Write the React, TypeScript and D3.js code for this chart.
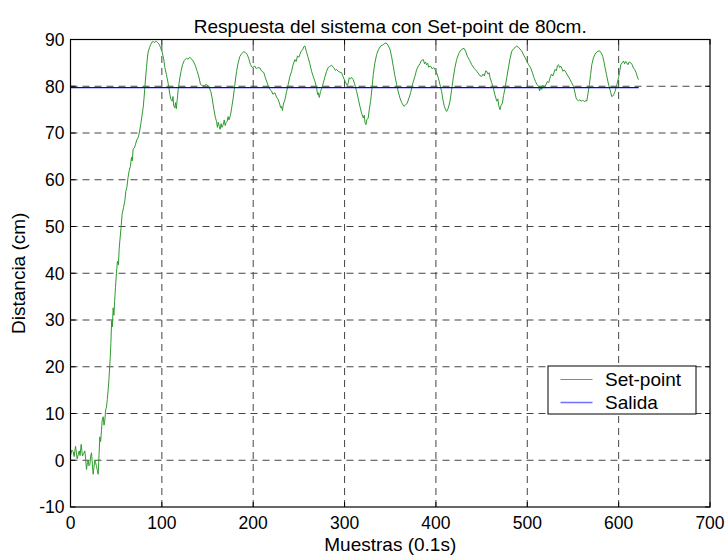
import { useRef, useEffect } from 'react';
import * as d3 from 'd3';

// [muestra, distancia]
const setPoint: [number, number][] = [
  [0, 1], [1.5, 2.2], [3, 1.8], [4, 0.8], [5.5, 3], [7.3, 0.3], [8.5, 1.2], [9.5, 2], [10.5, 1.0], [11.7, 3.4],
  [13.1, 0.9], [14.5, 1.5], [15.7, 2], [16.5, 0.5], [17.5, -2], [18.5, -0.5], [19.3, 0], [20.2, -1.2], [21.2, -1], [22, 0.8],
  [23, 1.6], [24, -1], [24.8, -3], [25.7, -1.5], [26.6, 0], [27.5, -0.5], [28.5, -1.4], [29.5, -2.2], [30.3, -3], [31.2, 1],
  [32.1, 5], [33, 4], [33.9, 6.4], [34.8, 8.8], [35.8, 9.3], [36.7, 7.5], [37.6, 8.6], [38.5, 10.8], [39.4, 11.4], [40.3, 13],
  [41.2, 15], [42, 17], [43.5, 22], [44.2, 25], [45, 29.8], [45.8, 28.5], [46.7, 32.6], [47.5, 31], [48.3, 34], [49.2, 36.9],
  [50.3, 40], [51.4, 42.6], [52.5, 41.8], [53.2, 45], [54, 46.9], [55.2, 49.5], [56.5, 52.6], [58, 54], [59.5, 55.5], [60.5, 57.5],
  [61.7, 58.4], [63, 60.5], [64.2, 61.9], [65.5, 62.8], [66.8, 64.8], [67.6, 64], [68.6, 66.6], [70, 66.8], [71.2, 67.6], [72.5, 68.5],
  [74, 69], [75.5, 70.2], [77, 72], [78.3, 73.8], [79.6, 75.5], [80.5, 77.5], [81.4, 79.8], [82.3, 82], [83.2, 84], [84, 85.8],
  [85, 87.3], [86.5, 88.3], [88, 89], [89.5, 89.5], [90.5, 89.6], [92, 89.3], [93, 89.6], [94.2, 89.6], [95.5, 89.3], [97, 89],
  [98.5, 88.3], [100.4, 87.3], [102, 85.8], [103.3, 84], [105, 82.5], [107, 80.5], [108.8, 78.2], [110, 77.2], [111.3, 76.8], [112.2, 77.8],
  [113, 75.8], [114.2, 75.4], [115, 76.5], [115.8, 75.2], [116.8, 77.1], [118, 79.5], [119.7, 81.8], [121, 83.2], [122.6, 84.6], [124.5, 85.5],
  [127, 86], [128.5, 85.8], [130.7, 86.2], [132.5, 85.8], [134.3, 85.4], [136.5, 84.5], [138.7, 83.2], [140.5, 82], [142.3, 80.4], [144.5, 80.1],
  [147, 80.2], [149, 80.4], [150.7, 80], [152, 79.6], [153.6, 78.9], [155, 77.5], [157, 75], [158.5, 73.4], [159.8, 72.5], [160.8, 71.2],
  [161.8, 72.3], [162.8, 71.4], [163.8, 70.8], [164.8, 72], [165.8, 71.2], [167.2, 71.8], [168.3, 72.8], [169.3, 71.6], [170.5, 72.3], [171.5, 72.5],
  [172.5, 73.5], [173.5, 72.8], [175.2, 73.9], [176.5, 75.5], [178.1, 77.5], [180, 80.5], [181.8, 83.2], [183.5, 85], [185.4, 86.4], [187.5, 87],
  [189.8, 87.4], [191.5, 87.2], [193.4, 86.8], [195, 86], [197.1, 84.6], [199, 84], [201.8, 84.3], [203.5, 83.7], [205, 84], [207.3, 83.9],
  [209, 83.3], [211.7, 82.9], [213, 82], [214.6, 81.1], [216.5, 80], [218.3, 79.3], [220, 79], [221.5, 78.3], [223.7, 78.6], [225.5, 77.7],
  [227.4, 77.1], [229, 76.2], [230, 75.4], [231, 75.7], [232, 74.8], [233, 76.2], [234.7, 77.1], [236.5, 78.8], [238.3, 80.4], [240, 82],
  [242, 83.2], [243.5, 84.5], [245.6, 85.7], [247, 85.3], [248.5, 86.5], [250, 86.2], [251.1, 86.8], [252.5, 87.5], [254, 87.8], [255.5, 88.5],
  [256.6, 88.6], [258.5, 87.2], [260.2, 86.1], [262, 84.8], [263.9, 83.2], [265.5, 82.2], [267.5, 81.1], [269.5, 79.5], [270.5, 78.2], [271.2, 78.6],
  [272.3, 77.6], [273.7, 78.9], [275, 79.5], [276.7, 80.7], [278.5, 82], [280.3, 83.2], [282, 84], [283.5, 84.2], [285.8, 84.5], [288, 84],
  [290, 83.4], [291.3, 83.6], [293, 83.2], [295, 83], [296.7, 82.9], [298.5, 82], [300.4, 81.1], [302, 80.5], [303, 80.2], [304, 80.7],
  [305, 81.8], [306.5, 81.6], [307.5, 81.9], [309.5, 81.4], [311, 80.5], [313.2, 78.9], [315, 77.3], [316.8, 75.7], [318.5, 74.3], [320.5, 73.2],
  [321.5, 73.8], [322.3, 72.3], [323.4, 71.8], [324.3, 72.8], [325.9, 73.2], [327, 75], [328.5, 76.8], [330, 79.5], [331.4, 82.5], [333, 84.8],
  [335.1, 86.8], [337, 87.8], [339.4, 88.6], [341.5, 88.8], [343, 89], [345.3, 89.3], [347.5, 88.8], [349.7, 87.9], [351.5, 86.3], [353.3, 84.3],
  [355, 82.3], [357, 80.4], [358.8, 78.8], [360.6, 77.5], [362.5, 76.5], [365, 75.7], [366.8, 76], [368.6, 76.4], [370.5, 77.5], [372.3, 78.6],
  [374.5, 80.5], [377, 82.1], [378.8, 83.5], [380.7, 84.3], [382.5, 84.8], [384, 85.5], [386.2, 85.7], [387.5, 84.8], [388.5, 85.2], [389.8, 84.6],
  [391, 84.9], [392, 84.1], [394.2, 84.3], [396, 83.7], [397.5, 84], [398.9, 83.6], [400.5, 83], [402.6, 81.8], [404.5, 80.3], [406.2, 78.9],
  [407.8, 77], [409.2, 75.7], [410.3, 75.1], [411.7, 74.6], [413.5, 75.3], [415.4, 76.8], [417, 79], [419, 81.8], [420.8, 84], [422.7, 85.7],
  [425, 87], [426.4, 87.5], [428.1, 87.9], [430.8, 88.1], [432.5, 87.5], [434.4, 86.4], [437, 85.5], [439.2, 84.6], [442, 83.8], [444.7, 83.2],
  [447, 82.6], [448.5, 82.2], [450.1, 82.1], [451.5, 82.6], [453, 82.2], [454.5, 83.3], [455.6, 83.2], [457, 82.6], [458.2, 82.9], [459.3, 81.8],
  [461, 80.8], [462.9, 79.6], [464.5, 78.2], [466.6, 76.8], [467.8, 77.3], [468.8, 75.8], [470.2, 75], [471.3, 75.9], [472.8, 76.4], [474, 78],
  [475.7, 79.6], [477.5, 81.8], [479.3, 83.9], [481, 85.8], [483, 87.5], [485.5, 88.1], [488.5, 88.6], [491, 88.2], [494, 87.5], [496.5, 86.5],
  [499.4, 85.4], [501.5, 84.6], [503.8, 83.9], [505.5, 83], [507.4, 81.8], [509, 81], [510.5, 80.4], [512.2, 80], [513.5, 79], [514.5, 79.7],
  [515.8, 79.3], [517, 80.2], [518.5, 79.6], [520.6, 80.4], [522, 81], [523.5, 80.8], [524.9, 81.8], [526.5, 82.6], [528, 82.2], [530.4, 83.6],
  [531.8, 83.3], [533, 84.4], [534.1, 84.6], [535.5, 84], [536.5, 84.3], [537.7, 83.9], [539, 83.2], [540.5, 83.5], [542.5, 82.9], [544.5, 82.2],
  [546.9, 81.4], [548.5, 80.8], [550.5, 80], [552, 78.8], [553.4, 77.5], [554.5, 77.1], [556, 76.9], [557.5, 77.1], [559, 76.8], [560.5, 77],
  [561.5, 76.9], [563, 76.7], [564, 77], [565.1, 76.8], [566.5, 78.5], [568, 80.4], [569.3, 82.5], [570.6, 84.6], [572.3, 86], [574.2, 86.9],
  [576.5, 87.4], [579, 87.6], [581, 87.1], [582.6, 86.4], [584, 85.2], [585.2, 83.9], [586.7, 82.5], [588.1, 81.1], [589.8, 79.8], [591.4, 78.6],
  [592.5, 77.8], [593.6, 77.9], [594.8, 78.3], [596.1, 78.9], [598, 80.3], [599.8, 81.8], [601, 83], [602.3, 84.6], [603.8, 85], [605.3, 85.4],
  [606.5, 84.8], [607.8, 85.3], [608.9, 85], [610.2, 84.6], [611.5, 85.2], [613.3, 85], [614.8, 84.6], [616.2, 83.9], [617.5, 83.6], [619.1, 82.9],
  [620.5, 82], [621.7, 81.4],
];

const salidaX = [0, 622];
const salidaY = [79.7, 79.7];

const xTicks = [0, 100, 200, 300, 400, 500, 600, 700];
const yTicks = [-10, 0, 10, 20, 30, 40, 50, 60, 70, 80, 90];
const legendLabels = ['Set-point', 'Salida'];

const FONT = '"Liberation Sans", Arial, sans-serif';

export default function App() {
  const svgRef = useRef<SVGSVGElement>(null);

  useEffect(() => {
    if (!svgRef.current) return;
    const svg = d3.select(svgRef.current);
    svg.selectAll('*').remove();
    const W = 727, H = 556;
    const pad = { top: 39.5, right: 17, bottom: 49, left: 70.5 };
    const w = W - pad.left - pad.right, h = H - pad.top - pad.bottom;

    svg.append('rect').attr('width', W).attr('height', H).attr('fill', '#fff');
    const g = svg.append('g').attr('transform', `translate(${pad.left},${pad.top})`);
    const x = d3.scaleLinear().domain([0, 700]).range([0, w]);
    const y = d3.scaleLinear().domain([-10, 90]).range([h, 0]);

    // grid, dashed like matlab's "grid on"
    g.selectAll('.gx').data(xTicks.slice(1, -1)).enter().append('line')
      .attr('x1', d => x(d)).attr('x2', d => x(d)).attr('y1', h).attr('y2', 0)
      .attr('stroke', '#444').attr('stroke-dasharray', '7,5');
    g.selectAll('.gy').data(yTicks.slice(1, -1)).enter().append('line')
      .attr('x1', 0).attr('x2', w).attr('y1', d => y(d)).attr('y2', d => y(d))
      .attr('stroke', '#444').attr('stroke-dasharray', '7,5');

    // curves
    const line = d3.line<[number, number]>().x(d => x(d[0])).y(d => y(d[1]));
    g.append('path').datum(setPoint).attr('d', line).attr('fill', 'none')
      .attr('stroke', '#2f9a2f').attr('stroke-width', 1).attr('stroke-linejoin', 'round');
    const salida = salidaX.map((v, i) => [v, salidaY[i]] as [number, number]);
    g.append('path').datum(salida).attr('d', line).attr('fill', 'none')
      .attr('stroke', '#0000ff').attr('stroke-width', 1.2);

    // box + inward ticks on all sides
    g.append('rect').attr('width', w).attr('height', h).attr('fill', 'none').attr('stroke', '#000').attr('stroke-width', 1.2);
    xTicks.forEach(t => {
      g.append('line').attr('x1', x(t)).attr('x2', x(t)).attr('y1', h).attr('y2', h - 5).attr('stroke', '#000');
      g.append('line').attr('x1', x(t)).attr('x2', x(t)).attr('y1', 0).attr('y2', 5).attr('stroke', '#000');
      g.append('text').attr('x', x(t)).attr('y', h + 22).attr('text-anchor', 'middle')
        .attr('font-family', FONT).attr('font-size', 17.5).text(t);
    });
    yTicks.forEach(t => {
      g.append('line').attr('x1', 0).attr('x2', 5).attr('y1', y(t)).attr('y2', y(t)).attr('stroke', '#000');
      g.append('line').attr('x1', w).attr('x2', w - 5).attr('y1', y(t)).attr('y2', y(t)).attr('stroke', '#000');
      g.append('text').attr('x', -6).attr('y', y(t)).attr('dy', '0.36em').attr('text-anchor', 'end')
        .attr('font-family', FONT).attr('font-size', 17.5).text(t);
    });

    // titles
    svg.append('text').attr('x', pad.left + w / 2).attr('y', 33).attr('text-anchor', 'middle')
      .attr('font-family', FONT).attr('font-size', 19).text('Respuesta del sistema con Set-point de 80cm.');
    svg.append('text').attr('x', pad.left + w / 2).attr('y', 551).attr('text-anchor', 'middle')
      .attr('font-family', FONT).attr('font-size', 19).text('Muestras (0.1s)');
    svg.append('text').attr('transform', `translate(25,${pad.top + h / 2}) rotate(-90)`).attr('text-anchor', 'middle')
      .attr('font-family', FONT).attr('font-size', 19).text('Distancia (cm)');

    // legend
    const lg = svg.append('g').attr('transform', 'translate(548,366)');
    lg.append('rect').attr('width', 148).attr('height', 48).attr('fill', '#fff').attr('stroke', '#000');
    const colors = ['#4caf50', '#7070ff'];
    legendLabels.forEach((lab, i) => {
      const cy = 13.5 + i * 23;
      lg.append('line').attr('x1', 12.5).attr('x2', 44.5).attr('y1', cy).attr('y2', cy)
        .attr('stroke', colors[i]).attr('stroke-width', i === 0 ? 1 : 1.5);
      lg.append('text').attr('x', 57).attr('y', cy).attr('dy', '0.36em')
        .attr('font-family', FONT).attr('font-size', 19).text(lab);
    });
  }, []);

  return (
    <div style={{ position: 'absolute', left: 0, top: 0 }}>
      <svg ref={svgRef} width={727} height={556} style={{ display: 'block' }} />
    </div>
  );
}
